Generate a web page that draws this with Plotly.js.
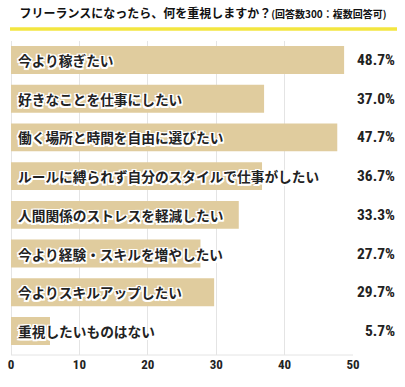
<!DOCTYPE html>
<html><head><meta charset="utf-8">
<script src="https://cdn.plot.ly/plotly-3.0.1.min.js"></script>
<style>html,body{margin:0;padding:0;background:#fff}#c{width:405px;height:387px}</style>
</head><body><div id="c"></div>
<script>
const categories = ["今より稼ぎたい","好きなことを仕事にしたい","働く場所と時間を自由に選びたい","ルールに縛られず自分のスタイルで仕事がしたい","人間関係のストレスを軽減したい","今より経験・スキルを増やしたい","今よりスキルアップしたい","重視したいものはない"];
const values = [48.7,37.0,47.7,36.7,33.3,27.7,29.7,5.7];
const tickVals = [0,10,20,30,40,50];
const titleMain = "フリーランスになったら、何を重視しますか？";
const titleSub = "(回答数300：複数回答可)";

const idx = categories.map((_, i) => i);
const jp = "'Noto Sans CJK JP', 'Noto Sans', sans-serif";
const num = "'Roboto Condensed', 'Roboto', sans-serif";
const halo = "1.5px 1.5px 0 #fff, -1.5px -1.5px 0 #fff, 1.5px -1.5px 0 #fff, -1.5px 1.5px 0 #fff, 0 1.5px 0 #fff, 0 -1.5px 0 #fff, 1.5px 0 0 #fff, -1.5px 0 0 #fff";

const ann = [];
categories.forEach((c, i) => {
  ann.push({x: 0, y: i, xref: 'x', yref: 'y', text: '<b>' + c + '</b>', showarrow: false,
    xanchor: 'left', yanchor: 'middle', xshift: 5,
    font: {family: jp, size: 13.7, color: '#222', shadow: halo}});
  ann.push({x: 1, y: i, xref: 'paper', yref: 'y', text: '<b>' + values[i].toFixed(1) + '%</b>', showarrow: false,
    xanchor: 'right', yanchor: 'middle', xshift: 44,
    font: {family: num, size: 15.5, color: '#222'}});
});

const layout = {
  width: 405, height: 387,
  margin: {l: 11, r: 52, t: 41, b: 32},
  paper_bgcolor: '#fff', plot_bgcolor: '#fff',
  showlegend: false,
  title: {text: '<b>' + titleMain + '</b><span style="font-size:10px"><b>' + titleSub + '</b></span>',
    x: 10/405, xanchor: 'left', y: 1 - 14/387, yanchor: 'middle', xref: 'paper',
    font: {family: jp, size: 12, color: '#111'}},
  xaxis: {range: [0, 50], tickvals: tickVals, ticktext: tickVals.map(v => '<b>' + v + '</b>'),
    showgrid: true, gridcolor: '#e4e4e4', gridwidth: 1, zeroline: true, zerolinecolor: '#e4e4e4',
    showline: false, ticks: '', tickfont: {family: num, size: 13, color: '#222'},
    fixedrange: true},
  yaxis: {range: [7.62, -0.49], showticklabels: false, showgrid: false, zeroline: false, ticks: '', fixedrange: true},
  shapes: [
    {type: 'line', xref: 'paper', yref: 'paper', x0: -1/342, x1: 386/342, y0: 1 + 12/314, y1: 1 + 12/314,
      line: {color: '#f3e640', width: 3.5}},
    {type: 'line', xref: 'paper', yref: 'paper', x0: 0, x1: 1, y0: 0, y1: 0, line: {color: '#e4e4e4', width: 1}}
  ],
  annotations: ann
};

Plotly.newPlot('c', [{type: 'bar', orientation: 'h', x: values, y: idx, width: 0.72,
  marker: {color: '#e0cc9e'}, hoverinfo: 'none'}], layout, {displayModeBar: false, staticPlot: true});
</script></body></html>
